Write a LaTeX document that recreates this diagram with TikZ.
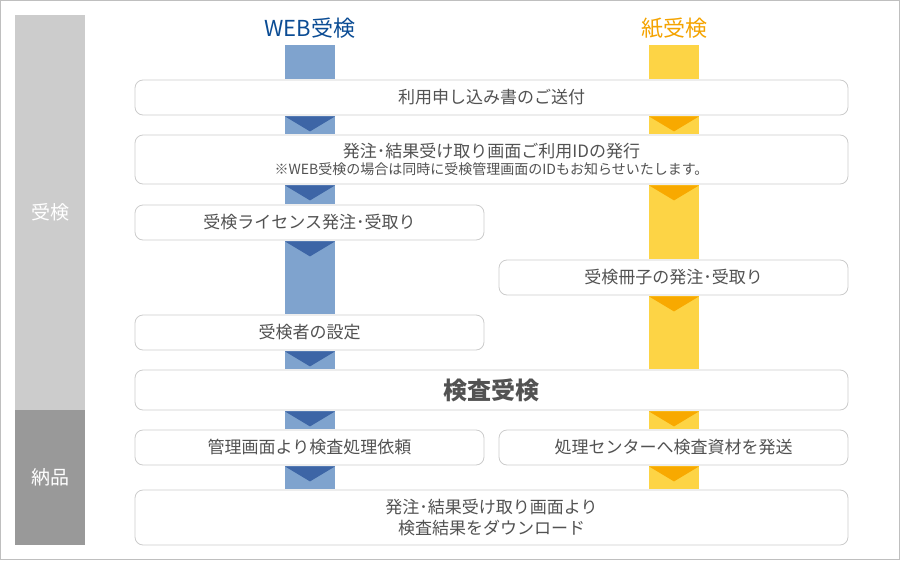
\documentclass[tikz,border=0pt]{standalone}
\usepackage{fontspec}
\setmainfont{Noto Sans CJK JP}
\usetikzlibrary{calc}
\definecolor{webl}{HTML}{7FA3CE}
\definecolor{webd}{HTML}{3D65A6}
\definecolor{papl}{HTML}{FDD445}
\definecolor{papd}{HTML}{F8A900}
\definecolor{webhead}{HTML}{0B4C94}
\definecolor{paphead}{HTML}{F4A300}
\definecolor{txt}{HTML}{525252}
\definecolor{frame}{HTML}{BFBFBF}
\definecolor{boxline}{HTML}{CCCCCC}
\definecolor{phasel}{HTML}{CCCCCC}
\definecolor{phased}{HTML}{999999}
% light, dark, column, from, to
\newcommand{\flowarrow}[5]{%
  \fill[#1] ($(#4 -| #3)+(-25,1)$) rectangle ($(#5 -| #3)+(25,-1)$);
  \fill[#2] ($(#4 -| #3)+(-25,1)$) -- ($(#4 -| #3)+(25,1)$) -- ($(#4 -| #3)+(0,16)$) -- cycle;
}
\tikzset{
  box/.style={draw=boxline, line width=0.8pt, rounded corners=8pt, fill=white,
    text=txt, font=\fontsize{17}{21}\selectfont, align=center, inner sep=0pt},
  wide/.style={box, minimum width=713pt},
  half/.style={box, minimum width=349pt},
  phase/.style={minimum width=70pt, inner sep=0pt, text=white, font=\fontsize{19}{22}\selectfont},
  head/.style={font=\fontsize{22}{24}\selectfont, inner sep=0pt}
}
\begin{document}
\begin{tikzpicture}[x=1pt,y=-1pt]
\useasboundingbox (0,0) rectangle (900,560);
\draw[frame, line width=1pt] (0.5,0.5) rectangle (899.5,559.5);

% phases
\node[phase, fill=phasel, minimum height=395pt] (exphase) at (50,212.5) {受検};
\node[phase, fill=phased, minimum height=135pt] (dlphase) at (50,477.5) {納品};

% columns
\node[head, text=webhead] (web) at (310,28) {WEB受検};
\node[head, text=paphead] (paper) at (674,28) {紙受検};
\coordinate (wcol) at (310,45);
\coordinate (pcol) at (674,45);

% steps
\node[wide, minimum height=35pt] (send) at (491.5,97.5) {利用申し込み書のご送付};
\node[wide, minimum height=49pt] (issue) at (491.5,159.5) {発注･結果受け取り画面ご利用IDの発行\\[-4pt]{\fontsize{14}{16}\selectfont ※WEB受検の場合は同時に受検管理画面のIDもお知らせいたします。}};
\node[half, minimum height=35pt] (lic) at (309.5,222.5) {受検ライセンス発注･受取り};
\node[half, minimum height=35pt] (book) at (673.5,277.5) {受検冊子の発注･受取り};
\node[half, minimum height=35pt] (set) at (309.5,332.5) {受検者の設定};
\node[wide, minimum height=40pt, font=\fontsize{24}{26}\selectfont\bfseries] (exam) at (491.5,390) {検査受検};
\node[half, minimum height=35pt] (req) at (309.5,447.5) {管理画面より検査処理依頼};
\node[half, minimum height=35pt] (ship) at (673.5,447.5) {処理センターへ検査資材を発送};
\node[wide, minimum height=55pt] (dl) at (491.5,517.5) {発注･結果受け取り画面より\\検査結果をダウンロード};

% arrows
\fill[webl] ($(wcol)+(-25,0)$) rectangle ($(send.north -| wcol)+(25,-1)$);
\fill[papl] ($(pcol)+(-25,0)$) rectangle ($(send.north -| pcol)+(25,-1)$);
\flowarrow{webl}{webd}{wcol}{send.south}{issue.north}
\flowarrow{papl}{papd}{pcol}{send.south}{issue.north}
\flowarrow{webl}{webd}{wcol}{issue.south}{lic.north}
\flowarrow{papl}{papd}{pcol}{issue.south}{book.north}
\flowarrow{webl}{webd}{wcol}{lic.south}{set.north}
\flowarrow{papl}{papd}{pcol}{book.south}{exam.north}
\flowarrow{webl}{webd}{wcol}{set.south}{exam.north}
\flowarrow{webl}{webd}{wcol}{exam.south}{req.north}
\flowarrow{papl}{papd}{pcol}{exam.south}{ship.north}
\flowarrow{webl}{webd}{wcol}{req.south}{dl.north}
\flowarrow{papl}{papd}{pcol}{ship.south}{dl.north}
\end{tikzpicture}
\end{document}
